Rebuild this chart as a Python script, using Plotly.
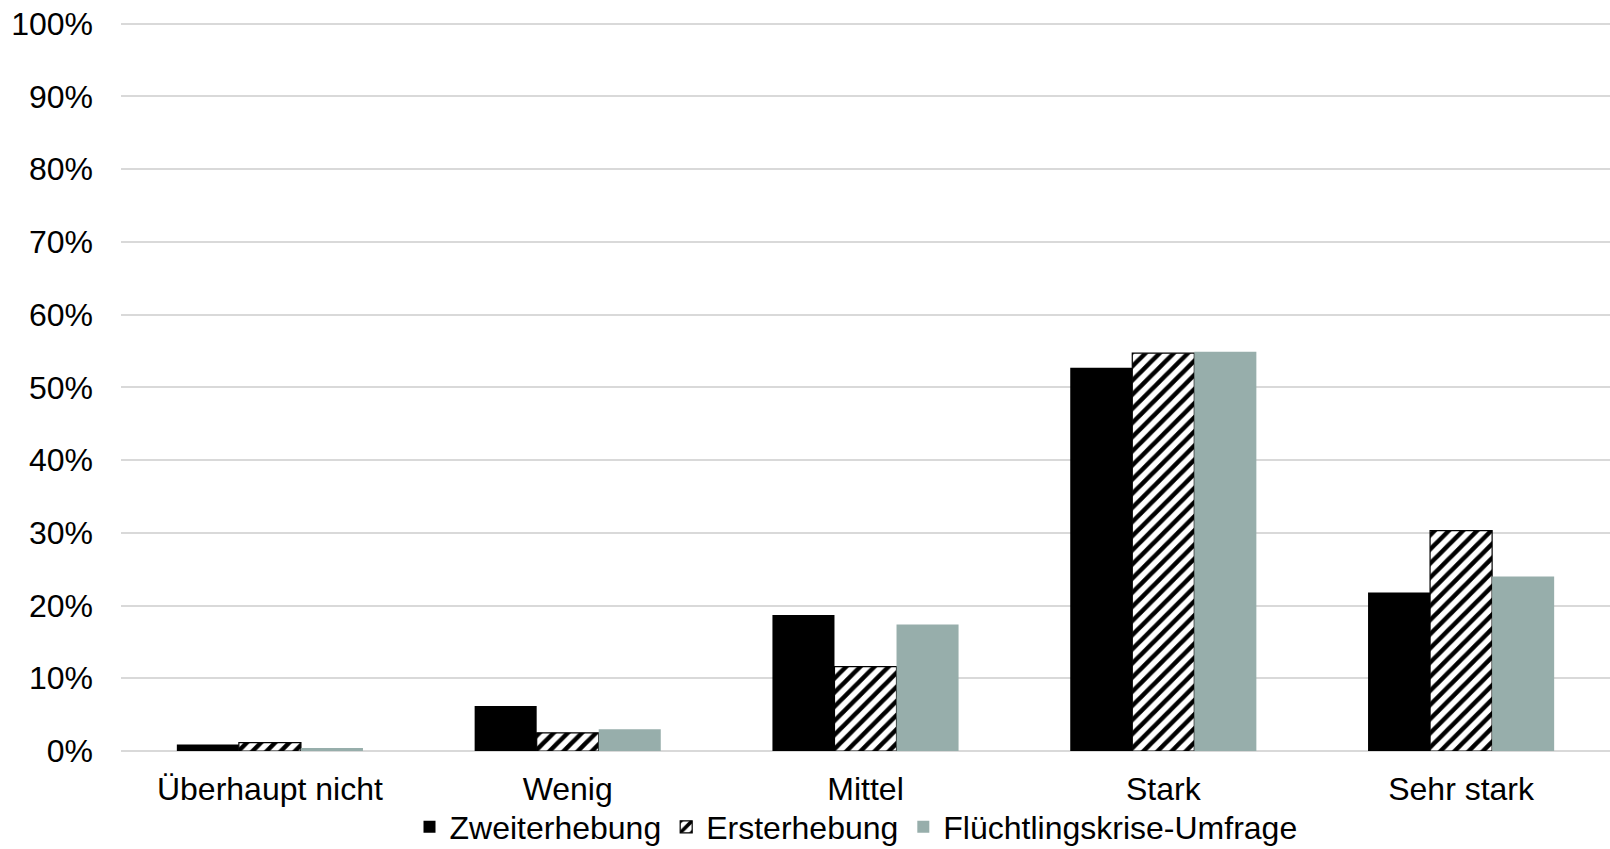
import plotly.graph_objects as go

categories = ["Überhaupt nicht", "Wenig", "Mittel", "Stark", "Sehr stark"]
zweiterhebung = [0.9, 6.2, 18.7, 52.7, 21.8]
ersterhebung = [1.15, 2.5, 11.6, 54.7, 30.3]
fluechtlingskrise = [0.4, 3.0, 17.4, 54.9, 24.0]
y_ticks = list(range(0, 101, 10))
y_tick_labels = [f"{v}%" for v in y_ticks]

FONT = "Liberation Sans, Arial, sans-serif"

fig = go.Figure()
fig.add_trace(go.Bar(
    name="Zweiterhebung", x=categories, y=zweiterhebung,
    marker=dict(color="#000000", line=dict(width=0)),
))
fig.add_trace(go.Bar(
    name="Ersterhebung", x=categories, y=ersterhebung,
    marker=dict(color="#ffffff", line=dict(color="#000000", width=1.2),
                pattern=dict(shape="/", fgcolor="#000000", bgcolor="#ffffff",
                             size=10, solidity=0.45, fillmode="replace")),
))
fig.add_trace(go.Bar(
    name="Flüchtlingskrise-Umfrage", x=categories, y=fluechtlingskrise,
    marker=dict(color="#97AEAB", line=dict(width=0)),
))

fig.update_layout(
    width=1610, height=849,
    margin=dict(l=121, r=0, t=20, b=98, autoexpand=False),
    paper_bgcolor="white", plot_bgcolor="white",
    barmode="group", bargap=0.375, bargroupgap=0,
    font=dict(family=FONT, size=32, color="#000000"),
    showlegend=True,
    legend=dict(orientation="h", xref="container", x=856 / 1610, xanchor="center",
                yref="paper", y=-76 / 731, yanchor="middle",
                font=dict(size=32), itemwidth=30,
                bgcolor="rgba(0,0,0,0)"),
    xaxis=dict(showgrid=False, showline=False, zeroline=False, ticks="",
               tickfont=dict(size=32), ticklabelstandoff=16),
    yaxis=dict(range=[0, 100.5], tickvals=y_ticks, ticktext=y_tick_labels,
               showgrid=True, gridcolor="#D9D9D9", gridwidth=1.5,
               zeroline=True, zerolinecolor="#D9D9D9", zerolinewidth=1.5,
               showline=False, ticks="", tickfont=dict(size=32),
               ticklabelstandoff=27),
)

fig.write_html("out.html")
